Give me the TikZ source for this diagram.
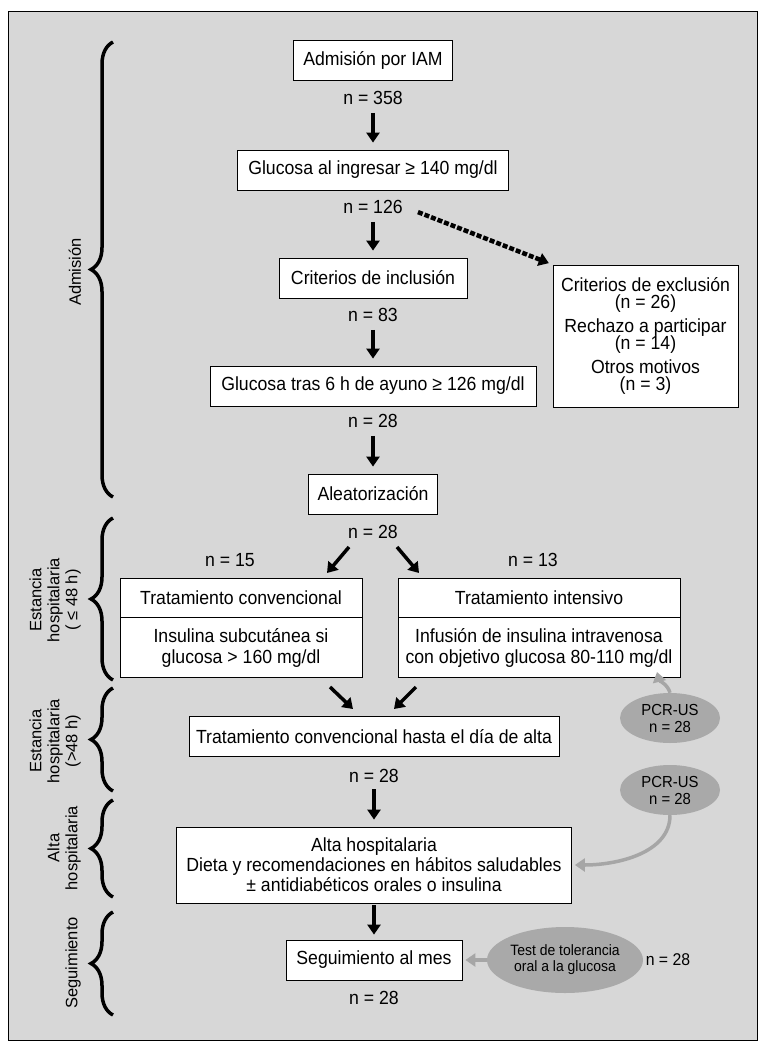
\documentclass[tikz,border=0pt]{standalone}
\usepackage{fontspec}
\setmainfont{Liberation Sans}[FakeStretch=0.93]
\newfontfamily\sidefont{Liberation Sans}
\usetikzlibrary{arrows.meta, positioning, shapes.geometric, decorations.pathreplacing}
\definecolor{bggray}{HTML}{D7D7D7}
\definecolor{ellgray}{HTML}{A9A9A9}
\definecolor{arrgray}{HTML}{A6A6A6}

\begin{document}
\begin{tikzpicture}[x=1pt, y=-1pt, node distance=108pt, on grid,
      >={Triangle[width=13pt,length=10pt]},
      font=\fontsize{19}{21}\selectfont,
      box/.style={draw, fill=white, line width=0.8pt, minimum height=40pt, inner xsep=6pt},
      count/.style={inner sep=2pt},
      arr/.style={->, line width=3.5pt, shorten <=6pt, shorten >=7pt},
      darr/.style={->, line width=3.5pt},
      garr/.style={->, draw=arrgray, line width=3.5pt},
      pcr/.style={ellipse, fill=ellgray, minimum width=100pt, minimum height=50pt,
        inner sep=0pt, align=center, font=\fontsize{16}{17}\selectfont},
      brc/.style={decorate, decoration={brace, amplitude=22pt}, line width=3.5pt},
      side/.style={rotate=90, align=center, font=\sidefont\fontsize{16.5}{18}\selectfont}]
  \useasboundingbox (0,0) rectangle (774,1049);
  \draw[fill=bggray, line width=1pt] (8,12) rectangle (757,1040);

  % admision
  \node[box, minimum width=159pt] (adm) at (373,60) {Admisión por IAM};
  \node[count, below=38pt of adm] (nadm) {n = 358};
  \node[box, minimum width=271pt, below=110pt of adm] (glu) {Glucosa al ingresar ≥ 140 mg/dl};
  \node[count, below=37pt of glu] (nglu) {n = 126};
  \node[box, minimum width=188pt, below=of glu] (inc) {Criterios de inclusión};
  \node[count, below=37pt of inc] (ninc) {n = 83};
  \node[box, minimum width=326pt, below=of inc] (ayu) {Glucosa tras 6 h de ayuno ≥ 126 mg/dl};
  \node[count, below=35pt of ayu] (nayu) {n = 28};
  \node[box, minimum width=129pt, below=of ayu] (rnd) {Aleatorización};
  \node[count, below=38pt of rnd] (nrnd) {n = 28};
  \node[box, minimum width=185pt, minimum height=142pt, align=center] (exc) at (645.5,336)
    {Criterios de exclusión\\[-4pt](n = 26)\\[3pt]Rechazo a participar\\[-4pt](n = 14)\\[3pt]Otros motivos\\[-4pt](n = 3)};

  \draw[arr] (nadm) -- (glu);
  \draw[arr] (nglu) -- (inc);
  \draw[arr] (ninc) -- (ayu);
  \draw[arr] (nayu) -- (rnd);
  \draw[->, line width=4.5pt, dash pattern=on 5pt off 2pt, shorten <=14pt, shorten >=4pt]
    (nglu.east) -- (exc.north west);

  % estancia <= 48 h
  \node[count] (n15) at (230,560) {n = 15};
  \node[count] (n13) at (533,560) {n = 13};
  \node[box, minimum width=242pt, minimum height=39pt] (conv) at (241,597.5) {Tratamiento convencional};
  \node[box, minimum width=242pt, minimum height=60pt, align=center, anchor=north] (convd) at (conv.south)
    {Insulina subcutánea si\\glucosa > 160 mg/dl};
  \node[box, minimum width=282pt, minimum height=39pt] (intv) at (539,597.5) {Tratamiento intensivo};
  \node[box, minimum width=282pt, minimum height=60pt, align=center, anchor=north] (intvd) at (intv.south)
    {Infusión de insulina intravenosa\\con objetivo glucosa 80-110 mg/dl};
  \coordinate (sl0) at (349,547);
  \coordinate (sl1) at (327,573);
  \coordinate (sr0) at (397,547);
  \coordinate (sr1) at (419,573);
  \draw[darr] (sl0) -- (sl1);
  \draw[darr] (sr0) -- (sr1);

  % estancia > 48 h
  \coordinate (cl0) at (330,687);
  \coordinate (cl1) at (353,709);
  \coordinate (cr0) at (416,687);
  \coordinate (cr1) at (394,709);
  \draw[darr] (cl0) -- (cl1);
  \draw[darr] (cr0) -- (cr1);
  \node[box, minimum width=370pt] (hasta) at (374,736.5) {Tratamiento convencional hasta el día de alta};
  \node[count, below=39pt of hasta] (nhasta) {n = 28};
  \node[pcr] (pcr1) at (670,718) {PCR-US\\n = 28};
  \coordinate (pcrtip) at (657,672);
  \draw[garr] (pcr1.north) .. controls +(-2,-8) and +(2,8) .. (pcrtip);

  % alta
  \node[box, minimum width=395pt, minimum height=76pt, align=center] (alta) at (374,865)
    {Alta hospitalaria\\[-1pt]Dieta y recomendaciones en hábitos saludables\\[-1pt]± antidiabéticos orales o insulina};
  \draw[arr, shorten <=5pt] (nhasta) -- (alta);
  \node[pcr] (pcr2) at (670,790) {PCR-US\\n = 28};
  \draw[garr, shorten >=3pt] (pcr2.south) .. controls +(0,38) and +(45,0) .. (alta.east);

  % seguimiento
  \node[box, minimum width=176pt] (seg) at (374,960) {Seguimiento al mes};
  \node[count, below=38pt of seg] (nseg) {n = 28};
  \draw[arr, shorten <=2pt, shorten >=5pt] (alta) -- (seg);
  \node[ellipse, fill=ellgray, minimum width=156pt, minimum height=66pt, inner sep=0pt, align=center,
    font=\fontsize{15}{16}\selectfont] (ogtt) at (565,960) {Test de tolerancia\\oral a la glucosa};
  \node[count, font=\fontsize{17}{19}\selectfont] (nogtt) at (668,960) {n = 28};
  \draw[garr, shorten >=3pt] (ogtt.west) -- (seg.east);

  % llaves y etapas
  \draw[brc] (113,497) -- (113,42);
  \draw[brc] (113,680) -- (113,518);
  \draw[brc] (113,791) -- (113,688);
  \draw[brc] (113,897) -- (113,800);
  \draw[brc] (113,1015) -- (113,912);
  \node[side] (lbadm) at (75,272) {Admisión};
  \node[side] (lbest1) at (55,600) {Estancia\\hospitalaria\\( ≤ 48 h)};
  \node[side] (lbest2) at (55,741) {Estancia\\hospitalaria\\(>48 h)};
  \node[side] (lbalta) at (64,848) {Alta\\hospitalaria};
  \node[side] (lbseg) at (73,963) {Seguimiento};
\end{tikzpicture}
\end{document}
